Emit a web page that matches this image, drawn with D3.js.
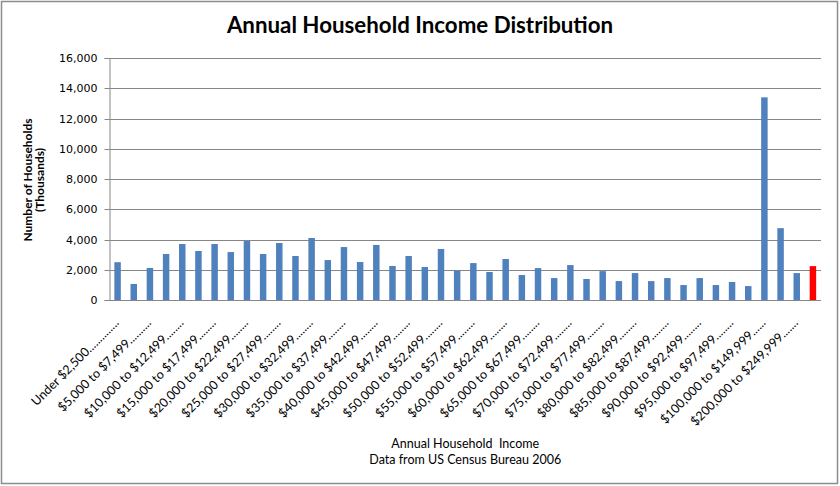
<!DOCTYPE html>
<html>
<head>
<meta charset="utf-8">
<script src="https://cdn.jsdelivr.net/npm/d3@7"></script>
<style>
  html, body { margin: 0; padding: 0; background: #fff; }
  svg { display: block; }
</style>
</head>
<body>
<svg id="chart" width="840" height="486"></svg>
<script>
// ---- Data (thousands of households, US Census Bureau 2006) ----
const categories = [
  "Under $2,500", "$2,500 to $4,999", "$5,000 to $7,499", "$7,500 to $9,999",
  "$10,000 to $12,499", "$12,500 to $14,999", "$15,000 to $17,499", "$17,500 to $19,999",
  "$20,000 to $22,499", "$22,500 to $24,999", "$25,000 to $27,499", "$27,500 to $29,999",
  "$30,000 to $32,499", "$32,500 to $34,999", "$35,000 to $37,499", "$37,500 to $39,999",
  "$40,000 to $42,499", "$42,500 to $44,999", "$45,000 to $47,499", "$47,500 to $49,999",
  "$50,000 to $52,499", "$52,500 to $54,999", "$55,000 to $57,499", "$57,500 to $59,999",
  "$60,000 to $62,499", "$62,500 to $64,999", "$65,000 to $67,499", "$67,500 to $69,999",
  "$70,000 to $72,499", "$72,500 to $74,999", "$75,000 to $77,499", "$77,500 to $79,999",
  "$80,000 to $82,499", "$82,500 to $84,999", "$85,000 to $87,499", "$87,500 to $89,999",
  "$90,000 to $92,499", "$92,500 to $94,999", "$95,000 to $97,499", "$97,500 to $99,999",
  "$100,000 to $149,999", "$150,000 to $199,999", "$200,000 to $249,999", "$250,000 and over"
];
// leader dots that follow each category name on the axis
const leaderDots = [
  14, 10, 10, 10, 8, 8, 8, 8, 8, 8, 8, 8, 8, 8, 8, 8, 8, 8, 8, 8, 8, 8,
  8, 8, 8, 8, 8, 8, 8, 8, 8, 8, 8, 8, 8, 8, 8, 8, 8, 8, 6, 6, 7, 7
];
const households = [
  2500, 1060, 2120, 3040, 3700, 3240, 3700, 3170, 3900, 3040,
  3770, 2910, 4100, 2640, 3500, 2510, 3640, 2250, 2910, 2180,
  3370, 1950, 2440, 1850, 2710, 1650, 2110, 1450, 2310, 1390,
  1910, 1250, 1780, 1250, 1450, 990, 1450, 990, 1190, 920,
  13400, 4750, 1780, 2240
];
const highlighted = ["$250,000 and over"];
const yTicks = [0, 2000, 4000, 6000, 8000, 10000, 12000, 14000, 16000];

const titleText = "Annual Household Income Distribution";
const yTitleLines = ["Number of Households", "(Thousands)"];
const xTitleLines = ["Annual Household  Income", "Data from US Census Bureau 2006"];

// ---- Layout ----
const W = 840, H = 486;
const plot = { left: 109.5, right: 821, top: 58, bottom: 300 };
const LABEL_FONT = "Lato, 'Open Sans', sans-serif";
const TICK_FONT = "'DejaVu Sans', Verdana, sans-serif";
const GRID = "#868686";

const svg = d3.select("#chart");

// outer frame
svg.append("rect")
  .attr("x", 1.5).attr("y", 1.5)
  .attr("width", 836).attr("height", 482)
  .attr("fill", "#fff").attr("stroke", "#8c8c8c").attr("stroke-width", 1.5);

const x = d3.scaleBand()
  .domain(categories)
  .range([plot.left, plot.right])
  .paddingInner(0.6)
  .paddingOuter(0.3);

const y = d3.scaleLinear()
  .domain([0, 16000])
  .range([plot.bottom, plot.top]);

// gridlines
svg.append("g")
  .selectAll("line")
  .data(yTicks.filter(d => d > 0))
  .join("line")
  .attr("x1", plot.left).attr("x2", plot.right)
  .attr("y1", d => Math.round(y(d)) + 0.5)
  .attr("y2", d => Math.round(y(d)) + 0.5)
  .attr("stroke", GRID).attr("stroke-width", 1);

// bars
svg.append("g")
  .selectAll("rect")
  .data(categories.map((c, i) => ({ c, v: households[i] })))
  .join("rect")
  .attr("x", d => x(d.c))
  .attr("width", x.bandwidth())
  .attr("y", d => y(d.v))
  .attr("height", d => y(0) - y(d.v))
  .attr("fill", d => highlighted.includes(d.c) ? "#ff0000" : "#4f81bd");

// y axis
const yAxis = d3.axisLeft(y)
  .tickValues(yTicks)
  .tickSize(5)
  .tickPadding(7)
  .tickFormat(d3.format(","));
const gy = svg.append("g")
  .attr("transform", `translate(${plot.left},0)`)
  .call(yAxis);
gy.select(".domain").attr("stroke", GRID);
gy.selectAll(".tick line").attr("stroke", GRID);
gy.selectAll(".tick").attr("transform", d => `translate(0,${Math.round(y(d)) + 0.5})`);
gy.selectAll(".tick text")
  .attr("font-family", TICK_FONT)
  .attr("font-size", 11)
  .attr("fill", "#000");

// x axis
const xAxis = d3.axisBottom(x)
  .tickValues(categories.filter((c, i) => i % 2 === 0))
  .tickSize(0)
  .tickFormat(c => c + ".".repeat(leaderDots[categories.indexOf(c)]));
const gx = svg.append("g")
  .attr("transform", `translate(0,${plot.bottom + 0.5})`)
  .call(xAxis);
gx.select(".domain").attr("stroke", GRID).attr("d", `M${plot.left},0H${plot.right}`);
gx.selectAll(".tick text")
  .attr("font-family", LABEL_FONT)
  .attr("font-size", 12.5)
  .attr("fill", "#000")
  .attr("text-anchor", "end")
  .attr("dy", 0)
  .attr("y", 0)
  .attr("transform", "translate(2,23) rotate(-45)");

// title
svg.append("text")
  .attr("x", 420).attr("y", 33)
  .attr("text-anchor", "middle")
  .attr("font-family", LABEL_FONT)
  .attr("font-weight", "bold")
  .attr("font-size", 22.3)
  .attr("fill", "#000")
  .text(titleText);

// y title
const yt = svg.append("text")
  .attr("transform", "translate(32,180) rotate(-90)")
  .attr("text-anchor", "middle")
  .attr("font-family", LABEL_FONT)
  .attr("font-weight", "bold")
  .attr("font-size", 12)
  .attr("fill", "#000");
yt.selectAll("tspan")
  .data(yTitleLines)
  .join("tspan")
  .attr("x", 0)
  .attr("y", (d, i) => i * 12)
  .text(d => d);

// x title
const xt = svg.append("text")
  .attr("text-anchor", "middle")
  .attr("font-family", LABEL_FONT)
  .attr("font-size", 12.5)
  .attr("fill", "#000");
xt.selectAll("tspan")
  .data(xTitleLines)
  .join("tspan")
  .attr("x", (plot.left + plot.right) / 2)
  .attr("y", (d, i) => 448 + i * 15.5)
  .attr("xml:space", "preserve")
  .text(d => d);
</script>
</body>
</html>
